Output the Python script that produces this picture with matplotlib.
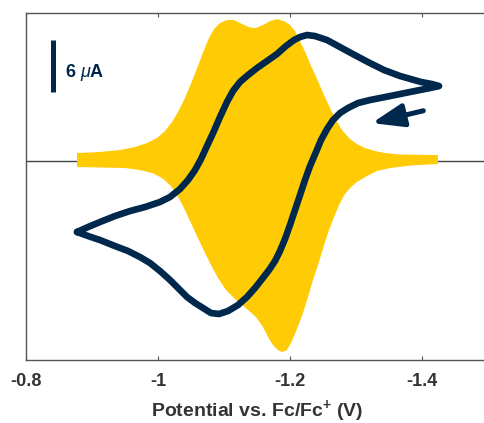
import numpy as np
import matplotlib
matplotlib.use("Agg")
import matplotlib.pyplot as plt

plt.rcParams["font.family"] = ["Liberation Sans", "DejaVu Sans"]
plt.rcParams["mathtext.fontset"] = "custom"
plt.rcParams["mathtext.rm"] = "Liberation Sans"
plt.rcParams["mathtext.it"] = "Liberation Sans:italic"
plt.rcParams["mathtext.bf"] = "Liberation Sans:bold"

MAIZE = "#FFCB05"
NAVY = "#00274C"
GREY = "#333333"

# CV loop (V vs Fc/Fc+, current in uA): left tip -> upper branch -> right tip -> lower branch
cv_v = [-0.8773, -0.8939, -0.9121, -0.9348, -0.9576, -0.9803, -1.0030, -1.0182, -1.0333, -1.0455,
        -1.0561, -1.0652, -1.0742, -1.0848, -1.0939, -1.1045, -1.1136, -1.1242, -1.1364, -1.1500,
        -1.1652, -1.1803, -1.1939, -1.2061, -1.2152, -1.2258, -1.2379, -1.2561, -1.2758, -1.2924,
        -1.3182, -1.3424, -1.3667, -1.3985, -1.4152, -1.4258,
        -1.4121, -1.3894, -1.3667, -1.3439, -1.3212, -1.3030, -1.2879, -1.2758, -1.2652, -1.2561,
        -1.2470, -1.2394, -1.2303, -1.2227, -1.2152, -1.2076, -1.2000, -1.1924, -1.1848, -1.1773,
        -1.1682, -1.1576, -1.1470, -1.1348, -1.1212, -1.1061, -1.0924, -1.0803, -1.0682, -1.0561,
        -1.0439, -1.0303, -1.0182, -1.0030, -0.9879, -0.9727, -0.9545, -0.9348, -0.9121, -0.8939,
        -0.8773]
cv_i = [-8.19, -7.62, -7.04, -6.35, -5.77, -5.31, -4.73, -4.15, -3.23, -2.19,
        -1.04, 0.23, 1.73, 3.46, 5.08, 6.81, 8.08, 9.12, 9.92, 10.73,
        11.54, 12.35, 13.27, 13.96, 14.31, 14.54, 14.42, 13.96, 13.15, 12.46,
        11.42, 10.50, 9.81, 9.12, 8.88, 8.65,
        8.42, 8.08, 7.73, 7.38, 7.04, 6.69, 6.12, 5.54, 4.73, 3.69,
        2.42, 1.04, -0.58, -2.19, -3.92, -5.65, -7.38, -9.00, -10.38, -11.54,
        -12.58, -13.62, -14.65, -15.69, -16.62, -17.31, -17.65, -17.54, -16.96, -16.38,
        -15.69, -14.65, -13.73, -12.69, -11.77, -11.08, -10.38, -9.81, -9.12, -8.65,
        -8.19]

# DPV envelope: upper and lower edges
dpv_up_v = [-0.8773, -0.9121, -0.9424, -0.9652, -0.9833, -0.9985, -1.0106, -1.0212, -1.0303, -1.0394,
            -1.0485, -1.0576, -1.0667, -1.0758, -1.0848, -1.0939, -1.1045, -1.1152, -1.1273, -1.1394,
            -1.1485, -1.1591, -1.1697, -1.1803, -1.1909, -1.2000, -1.2076, -1.2152, -1.2242, -1.2333,
            -1.2424, -1.2515, -1.2606, -1.2697, -1.2788, -1.2909, -1.3015, -1.3136, -1.3288, -1.3439,
            -1.3667, -1.4242]
dpv_up_i = [0.92, 1.04, 1.27, 1.62, 2.08, 2.65, 3.46, 4.50, 5.65, 7.04,
            8.65, 10.38, 12.23, 13.96, 15.23, 15.92, 16.27, 16.27, 15.81, 15.40,
            15.35, 15.69, 16.15, 16.38, 16.15, 15.69, 15.00, 13.85, 12.35, 10.73,
            9.23, 7.62, 6.12, 4.73, 3.58, 2.54, 1.96, 1.50, 1.15, 0.92,
            0.75, 0.69]
dpv_lo_v = [-0.8773, -0.9121, -0.9500, -0.9727, -0.9909, -1.0061, -1.0182, -1.0288, -1.0379, -1.0485,
            -1.0591, -1.0697, -1.0803, -1.0909, -1.1030, -1.1182, -1.1348, -1.1485, -1.1591, -1.1667,
            -1.1742, -1.1818, -1.1879, -1.1955, -1.2030, -1.2106, -1.2197, -1.2273, -1.2348, -1.2409,
            -1.2470, -1.2530, -1.2591, -1.2667, -1.2742, -1.2833, -1.2924, -1.3015, -1.3167, -1.3318,
            -1.3515, -1.3818, -1.4242]
dpv_lo_i = [-0.69, -0.75, -0.81, -1.04, -1.38, -1.96, -2.77, -3.92, -5.19, -6.92,
            -8.65, -10.38, -12.00, -13.50, -14.88, -16.04, -17.08, -18.00, -19.15, -20.31,
            -21.23, -21.81, -22.04, -21.81, -20.77, -19.38, -17.54, -15.69, -13.73, -12.35,
            -10.85, -9.35, -7.96, -6.46, -5.08, -3.81, -3.00, -2.42, -1.73, -1.15,
            -0.81, -0.52, -0.35]

xticks = [-0.8, -1.0, -1.2, -1.4]
xtick_labels = ["-0.8", "-1", "-1.2", "-1.4"]

fig = plt.figure(figsize=(4.84, 4.23), dpi=100)
ax = fig.add_axes([26 / 484, 1 - 360 / 423, 462 / 484, 347 / 423])

ax.axhline(0, color="#444444", lw=1.0, zorder=0)
ax.fill(np.concatenate([dpv_up_v, dpv_lo_v[::-1]]),
        np.concatenate([dpv_up_i, dpv_lo_i[::-1]]),
        color=MAIZE, lw=0, zorder=1)
ax.plot(cv_v, cv_i, color=NAVY, lw=4.8, solid_joinstyle="round",
        solid_capstyle="round", zorder=2)

# scan direction arrow
ax.annotate("", xy=(-1.324, 4.38), xytext=(-1.402, 5.80),
            arrowprops=dict(arrowstyle="-|>,head_length=1.9,head_width=0.7",
                            color=NAVY, lw=3.6, shrinkA=0, shrinkB=0))

# 6 uA scale bar
ax.plot([-0.841, -0.841], [7.96, 13.96], color=NAVY, lw=3.6, solid_capstyle="butt")
ax.text(-0.859, 10.27, r"6 $\mu$A", fontsize=13, fontweight="bold",
        color=NAVY, ha="left", va="center")

ax.set_xlim(-0.8, -1.5)
ax.set_ylim(-22.96, 17.08)
ax.set_xticks(xticks)
ax.set_xticklabels(xtick_labels, fontsize=13, fontweight="bold", color=GREY)
ax.set_yticks([])
ax.tick_params(axis="x", direction="in", length=3, top=True, pad=9, color="#555555")
for side in ["left", "top", "bottom"]:
    ax.spines[side].set_color("#555555")
    ax.spines[side].set_linewidth(1.0)
ax.spines["right"].set_visible(False)

ax.set_xlabel(r"Potential vs. Fc/Fc$^{\mathbf{+}}$ (V)", fontsize=14,
              fontweight="bold", color=GREY, labelpad=6)

fig.savefig("out.png", dpi=100)
